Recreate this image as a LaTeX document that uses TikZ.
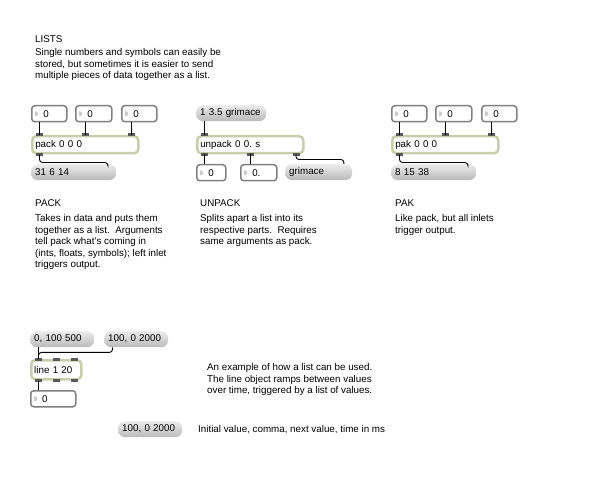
\documentclass[tikz,border=0pt]{standalone}
\usepackage{fontspec}
\setmainfont{Liberation Sans}
\frenchspacing
\definecolor{objline}{HTML}{C8CEAC}
\definecolor{portgray}{HTML}{5A5A5A}
\definecolor{numline}{HTML}{808080}
\tikzset{
    numbox/.style ={draw=numline, line width=1.5pt, fill=white, rounded corners=3pt, anchor=north west,
        minimum height=16pt, inner xsep=3pt, inner ysep=0pt, text width=#1, align=left,
        execute at begin node=\hspace*{8.5pt},
        path picture={\fill[gray!40] ([xshift=3pt,yshift=4pt]path picture bounding box.west) -- ++(5pt,-4pt) -- ++(-5pt,-4pt) -- cycle;}},
    msgbox/.style ={rounded corners=7pt, top color=gray!15, bottom color=gray!55, anchor=north west,
        minimum height=16pt, inner xsep=4pt, inner ysep=0pt, text width=#1, align=left},
    objbox/.style ={draw=objline, line width=2.5pt, fill=white, rounded corners=4pt, anchor=north west,
        minimum height=17pt, inner xsep=3pt, inner ysep=0pt, text width=#1, align=left},
    note/.style ={anchor=north west, inner sep=0pt, align=left},
    port/.style ={fill=portgray},
    cord/.style ={draw=black, line width=0.9pt, rounded corners=3pt}}

\begin{document}
\begin{tikzpicture}[x=1pt,y=-1pt,every node/.append style={font=\fontsize{9.8}{11.5}\selectfont}]
    \fill[white] (0,0) rectangle (600,484);
    \useasboundingbox (0,0) rectangle (600,484);
    % texts
    \node[note] (title) at (35,35.5) {LISTS};
    \node[note] (intro) at (35,48.5) {Single numbers and symbols can easily be\\
        stored, but sometimes it is easier to send\\ multiple pieces of data together as a list.};
    \node[note] (packh) at (35,199.5) {PACK};
    \node[note] (packt) at (35,214.5) {Takes in data and puts them\\ together as a list.~ Arguments\\
        tell pack what's coming in\\ (ints, floats, symbols); left inlet\\ triggers output.};
    \node[note] (unpackh) at (200,199.5) {UNPACK};
    \node[note] (unpackt) at (200,214.5) {Splits apart a list into its\\ respective parts.~ Requires\\
        same arguments as pack.};
    \node[note] (pakh) at (395,199.5) {PAK};
    \node[note] (pakt) at (395,214.5) {Like pack, but all inlets\\ trigger output.};
    \node[note] (linet) at (207,363.5) {An example of how a list can be used.\\
        The line object ramps between values\\ over time, triggered by a list of values.};
    \node[note] (initt) at (198,425.5) {Initial value, comma, next value, time in ms};
    % pack
    \node[numbox=29pt] (pn1) at (31,105) {0};
    \node[numbox=30pt] (pn2) at (75,105) {0};
    \node[numbox=29pt] (pn3) at (121,105) {0};
    \node[objbox=100pt] (pk) at (31,135) {pack 0 0 0};
    \node[msgbox=77pt] (pm) at (31,164) {31 6 14};
    % unpack
    \node[msgbox=62pt] (um) at (196,105) {1 3.5 grimace};
    \node[objbox=100pt] (up) at (196,135) {unpack 0 0. s};
    \node[numbox=23pt] (un1) at (196,164) {0};
    \node[numbox=30pt] (un2) at (240,164) {0.};
    \node[msgbox=59pt] (ug) at (285,164) {grimace};
    % pak
    \node[numbox=29pt] (kn1) at (391,105) {0};
    \node[numbox=30pt] (kn2) at (435,105) {0};
    \node[numbox=29pt] (kn3) at (481,105) {0};
    \node[objbox=100pt] (pa) at (391,135) {pak 0 0 0};
    \node[msgbox=77pt] (km) at (391,164) {8 15 38};
    % line
    \node[msgbox=56pt] (lm1) at (30,331) {0, 100 500};
    \node[msgbox=56pt] (lm2) at (104,331) {100, 0 2000};
    \node[objbox=44pt,minimum height=19pt] (ln) at (30,359) {line 1 20};
    \node[numbox=39pt] (ln1) at (30,390) {0};
    \node[msgbox=56pt] (lm3) at (118,421) {100, 0 2000};
    % inlets and outlets
    \foreach \o in {pk,pa,ln}{
        \fill[port] ([xshift=5pt,yshift=1.5pt]\o.north west) rectangle ++(7pt,-3pt);
        \fill[port] ([xshift=-3.5pt,yshift=1.5pt]\o.north) rectangle ++(7pt,-3pt);
        \fill[port] ([xshift=-12pt,yshift=1.5pt]\o.north east) rectangle ++(7pt,-3pt);}
    \foreach \o in {pk,pa,up,ln}
        \fill[port] ([xshift=5pt,yshift=1.5pt]\o.south west) rectangle ++(7pt,-3pt);
    \foreach \o in {up,ln}{
        \fill[port] ([xshift=-3.5pt,yshift=1.5pt]\o.south) rectangle ++(7pt,-3pt);
        \fill[port] ([xshift=-12pt,yshift=1.5pt]\o.south east) rectangle ++(7pt,-3pt);}
    \fill[port] ([xshift=5pt,yshift=1.5pt]up.north west) rectangle ++(7pt,-3pt);
    % cords
    \draw[cord] ([xshift=8.5pt]pk.north west) -- ([xshift=8.5pt]pk.north west |- pn1.south);
    \draw[cord] (pk.north) -- (pk.north |- pn2.south);
    \draw[cord] ([xshift=-8.5pt]pk.north east) -- ([xshift=-8.5pt]pk.north east |- pn3.south);
    \draw[cord] ([xshift=8.5pt]pk.south west) -- ++(0,8) -| ([xshift=-8.5pt]pm.north east);
    \draw[cord] ([xshift=8.5pt]up.north west) -- ([xshift=8.5pt]up.north west |- um.south);
    \draw[cord] ([xshift=8.5pt]up.south west) -- ([xshift=8.5pt]up.south west |- un1.north);
    \draw[cord] (up.south) -- (up.south |- un2.north);
    \draw[cord] ([xshift=-8.5pt]up.south east) -- ++(0,5) -| ([xshift=-8.5pt]ug.north east);
    \draw[cord] ([xshift=8.5pt]pa.north west) -- ([xshift=8.5pt]pa.north west |- kn1.south);
    \draw[cord] (pa.north) -- (pa.north |- kn2.south);
    \draw[cord] ([xshift=-8.5pt]pa.north east) -- ([xshift=-8.5pt]pa.north east |- kn3.south);
    \draw[cord] ([xshift=8.5pt]pa.south west) -- ++(0,8) -| ([xshift=-8.5pt]km.north east);
    \draw[cord] ([xshift=8.5pt]ln.north west) -- ([xshift=8.5pt]ln.north west |- lm1.south);
    \draw[cord] ([xshift=8.5pt]lm2.south west) -- ++(0,5) -| ([xshift=8.5pt]ln.north west);
    \draw[cord] ([xshift=8.5pt]ln.south west) -- ([xshift=8.5pt]ln.south west |- ln1.north);
\end{tikzpicture}
\end{document}
